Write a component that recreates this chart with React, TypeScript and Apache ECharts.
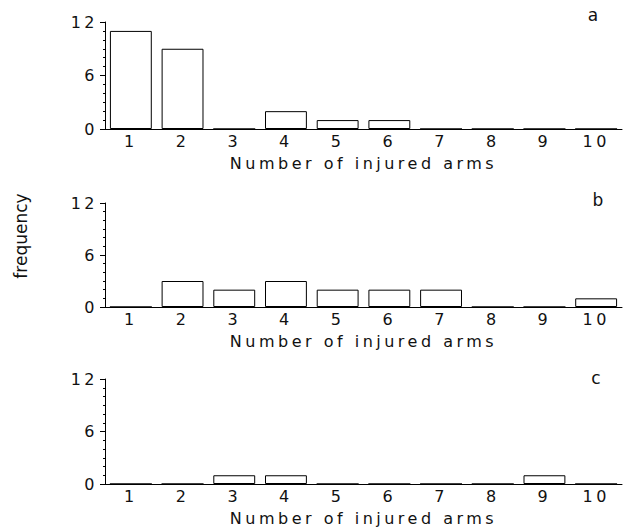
import React, { useEffect, useRef } from "react";
import * as echarts from "echarts";

const categories = ["1", "2", "3", "4", "5", "6", "7", "8", "9", "10"];
const panelA = [11, 9, 0, 2, 1, 1, 0, 0, 0, 0];
const panelB = [0, 3, 2, 3, 2, 2, 2, 0, 0, 1];
const panelC = [0, 0, 1, 1, 0, 0, 0, 0, 1, 0];
const yTicks = [0, 6, 12];
const panelLetters = ["a", "b", "c"];
const xTitle = "Number of injured arms";
const yTitle = "frequency";

const FONT = "DejaVu Sans";
const TXT = "#111";

export default function App() {
  const ref = useRef<HTMLDivElement>(null);
  useEffect(() => {
    if (!ref.current) return;
    const chart = echarts.init(ref.current, null, { renderer: "svg" });
    const grids = [
      { left: 105, right: 2, top: 22, height: 107 },
      { left: 105, right: 2, top: 203, height: 104 },
      { left: 105, right: 2, top: 379, height: 105 },
    ];
    const datas = [panelA, panelB, panelC];
    const xAxes = grids.map((_, i) => ({
      type: "category",
      gridIndex: i,
      data: categories,
      axisTick: { show: false },
      axisLine: { lineStyle: { color: "#000", width: 1 } },
      axisLabel: { fontFamily: FONT, fontSize: 16, color: TXT, margin: 4 },
      name: xTitle,
      nameLocation: "middle",
      nameGap: 26,
      nameTextStyle: { fontFamily: FONT, fontSize: 16, color: TXT },
    }));
    const yAxes = grids.map((_, i) => ({
      type: "value",
      gridIndex: i,
      min: yTicks[0],
      max: yTicks[yTicks.length - 1],
      interval: yTicks[1] - yTicks[0],
      splitLine: { show: false },
      axisLine: { show: true, lineStyle: { color: "#000", width: 1 } },
      axisTick: { show: true, length: 5, lineStyle: { color: "#000" } },
      minorTick: { show: true, splitNumber: 6, length: 2, lineStyle: { color: "#000" } },
      axisLabel: { fontFamily: FONT, fontSize: 16, color: TXT, margin: 7 },
    }));
    const series = datas.map((d, i) => ({
      type: "bar",
      xAxisIndex: i,
      yAxisIndex: i,
      data: d,
      barCategoryGap: "19%",
      itemStyle: { color: "#fff", borderColor: "#000", borderWidth: 1 },
    }));
    const letterPos = [
      [593, 15],
      [598, 200],
      [596, 378],
    ];
    const graphic: any[] = panelLetters.map((l, i) => ({
      type: "text",
      x: letterPos[i][0],
      y: letterPos[i][1],
      style: {
        text: l,
        fontFamily: FONT,
        fontSize: 17,
        fill: TXT,
        align: "center",
        verticalAlign: "middle",
      },
    }));
    graphic.push({
      type: "text",
      x: 21,
      y: 236,
      rotation: Math.PI / 2,
      style: {
        text: yTitle,
        fontFamily: FONT,
        fontSize: 17,
        fill: TXT,
        align: "center",
        verticalAlign: "middle",
      },
    });
    chart.setOption({
      animation: false,
      backgroundColor: "#fff",
      grid: grids,
      xAxis: xAxes,
      yAxis: yAxes,
      series,
      graphic,
    });
    const skip = new Set([yTitle, ...panelLetters]);
    ref.current.querySelectorAll("text").forEach((t) => {
      if (!skip.has((t.textContent || "").trim())) {
        (t as SVGTextElement).style.letterSpacing = "3.5px";
      }
    });
    return () => chart.dispose();
  }, []);
  return (
    <div
      ref={ref}
      style={{ position: "fixed", left: 0, top: 0, width: 624, height: 530, background: "#fff" }}
    />
  );
}
